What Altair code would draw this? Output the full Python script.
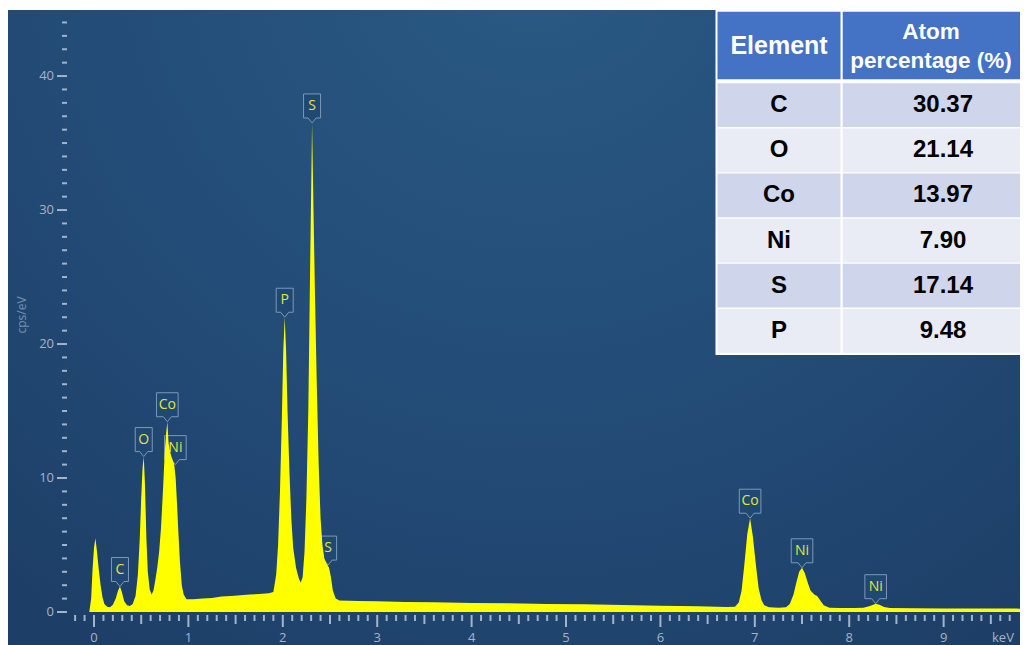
import altair as alt
import pandas as pd

# ---------------- data ----------------
energy = [-0.05, -0.03, -0.015, 0.0, 0.015, 0.03, 0.05, 0.07, 0.09, 0.11, 0.14, 0.17,
          0.20, 0.23, 0.255, 0.275, 0.295, 0.32, 0.35, 0.38, 0.41, 0.44, 0.465, 0.485,
          0.50, 0.515, 0.527, 0.54, 0.555, 0.57, 0.59, 0.61, 0.63, 0.65, 0.67, 0.69,
          0.71, 0.73, 0.75, 0.765, 0.777, 0.79, 0.805, 0.82, 0.835, 0.85, 0.865, 0.88,
          0.895, 0.91, 0.93, 0.95, 0.98, 1.05, 1.15, 1.25, 1.35, 1.45, 1.55, 1.65,
          1.75, 1.85, 1.90, 1.93, 1.95, 1.97, 1.99, 2.005, 2.02, 2.035, 2.05, 2.07,
          2.09, 2.11, 2.14, 2.17, 2.19, 2.21, 2.23, 2.25, 2.27, 2.29, 2.31, 2.325,
          2.34, 2.36, 2.38, 2.40, 2.42, 2.44, 2.465, 2.49, 2.51, 2.53, 2.56, 2.60,
          2.8, 3.0, 3.3, 3.6, 4.0, 4.4, 4.8, 5.2, 5.6, 6.0, 6.4, 6.7, 6.79, 6.83,
          6.86, 6.89, 6.92, 6.95, 6.98, 7.01, 7.04, 7.07, 7.10, 7.15, 7.25, 7.33,
          7.37, 7.41, 7.44, 7.47, 7.50, 7.53, 7.56, 7.59, 7.63, 7.66, 7.69, 7.73,
          7.79, 7.9, 8.05, 8.15, 8.22, 8.28, 8.32, 8.37, 8.43, 8.7, 9.0, 9.4, 9.9]
cps = [0.0, 1.0, 3.2, 4.8, 5.5, 4.6, 3.2, 2.0, 1.1, 0.6, 0.4, 0.35,
       0.55, 1.0, 1.6, 1.9, 1.5, 0.8, 0.5, 0.45, 0.6, 1.2, 2.8, 5.5,
       8.5, 10.8, 11.6, 9.5, 5.5, 3.0, 1.7, 1.3, 1.6, 2.4, 3.3, 4.5,
       6.3, 9.0, 12.0, 13.4, 14.2, 12.6, 12.0, 11.6, 11.3, 11.0, 10.0, 8.0,
       5.8, 3.8, 2.0, 1.3, 0.95, 0.95, 1.0, 1.05, 1.15, 1.2, 1.25, 1.3,
       1.35, 1.4, 1.5, 2.8, 5.0, 9.0, 14.5, 19.5, 22.0, 19.5, 15.0, 10.5,
       7.0, 4.8, 3.3, 2.5, 2.2, 2.6, 4.5, 8.5, 15.0, 26.0, 36.5, 30.0,
       24.0, 17.0, 11.0, 7.0, 5.0, 4.0, 3.6, 3.3, 2.6, 1.6, 1.0, 0.85,
       0.82, 0.8, 0.75, 0.72, 0.68, 0.65, 0.6, 0.57, 0.52, 0.47, 0.42, 0.38, 0.4, 0.7,
       1.6, 3.6, 5.8, 7.0, 5.6, 3.6, 1.8, 0.9, 0.5, 0.35, 0.32, 0.35,
       0.6, 1.3, 2.2, 3.0, 3.3, 2.9, 2.2, 1.6, 1.3, 1.2, 0.9, 0.5,
       0.32, 0.3, 0.3, 0.32, 0.45, 0.62, 0.55, 0.38, 0.3, 0.28, 0.27, 0.26, 0.25]

peak_names = ["C", "O", "Co", "Ni", "P", "S", "S", "Co", "Ni", "Ni"]
peak_energy = [0.275, 0.527, 0.777, 0.862, 2.02, 2.31, 2.48, 6.95, 7.50, 8.28]
peak_cps = [1.9, 11.6, 14.2, 11.0, 22.0, 36.5, 3.5, 7.0, 3.3, 0.62]

elements = ["C", "O", "Co", "Ni", "S", "P"]
atom_pct = ["30.37", "21.14", "13.97", "7.90", "17.14", "9.48"]
table_headers = ["Element", "Atom\npercentage (%)"]

y_major = [0, 10, 20, 30, 40]
y_minor = [v for v in range(0, 45) if v % 10 != 0]
x_major = list(range(0, 10))
x_half = [i + 0.5 for i in range(0, 10)]
x_minor = [round(i * 0.1, 1) for i in range(-2, 98) if i % 5 != 0]
x_title = "keV"
y_title = "cps/eV"

# ---------------- frames ----------------
spec_df = pd.DataFrame({"keV": energy, "cps": cps})
peak_df = pd.DataFrame({"keV": peak_energy, "cps": peak_cps, "name": peak_names})
tab_df = pd.DataFrame({"row": list(range(len(elements))), "element": elements, "pct": atom_pct})
one = pd.DataFrame({"a": [0]})

W, H = 953, 602
xs = alt.Scale(domain=[-0.286, 9.809], nice=False, zero=False)
ys = alt.Scale(domain=[0, 44.93], nice=False, zero=False)
AXC = "#a3b4c9"

bg = alt.Chart(one).mark_rect(
    fill={"gradient": "radial",
          "stops": [{"offset": 0, "color": "#295a85"},
                    {"offset": 0.55, "color": "#224a75"},
                    {"offset": 1, "color": "#1b3a61"}],
          "x1": 0.52, "y1": 0.12, "x2": 0.52, "y2": 0.12, "r1": 0, "r2": 0.95}
).encode(x=alt.value(-59), x2=alt.value(W), y=alt.value(0), y2=alt.value(H + 33))

# ---- axis ticks and labels, drawn through the scales from the tick lists ----
def yticks(vals, length):
    return alt.Chart(pd.DataFrame({"cps": vals})).mark_rule(color=AXC, strokeWidth=2).encode(
        y=alt.Y("cps:Q", scale=ys, axis=None), x=alt.value(-length), x2=alt.value(0))

def xticks(vals, length):
    return alt.Chart(pd.DataFrame({"keV": vals})).mark_rule(color=AXC, strokeWidth=2).encode(
        x=alt.X("keV:Q", scale=xs, axis=None), y=alt.value(H + 3), y2=alt.value(H + 3 + length))

ytick_minor = yticks(y_minor, 5)
ytick_major = yticks(y_major, 10)
xtick_minor = xticks(x_minor, 6)
xtick_half = xticks(x_half, 9)
xtick_major = xticks(x_major, 12)

ylab = alt.Chart(pd.DataFrame({"cps": y_major})).mark_text(
    align="right", baseline="middle", font="Open Sans", fontSize=13, color=AXC
).encode(y=alt.Y("cps:Q", scale=ys, axis=None), x=alt.value(-13), text=alt.Text("cps:Q", format="d"))

xlab = alt.Chart(pd.DataFrame({"keV": x_major})).mark_text(
    align="center", baseline="middle", font="Open Sans", fontSize=13, color=AXC
).encode(x=alt.X("keV:Q", scale=xs, axis=None), y=alt.value(H + 26), text=alt.Text("keV:Q", format="d"))

xtitle = alt.Chart(pd.DataFrame({"t": [x_title]})).mark_text(
    align="left", baseline="middle", font="Open Sans", fontSize=13, color=AXC
).encode(x=alt.value(925), y=alt.value(H + 26), text="t:N")

ytitle = alt.Chart(pd.DataFrame({"t": [y_title]})).mark_text(
    align="center", baseline="middle", font="Open Sans", fontSize=12, color="#7590b3", angle=270
).encode(x=alt.value(-45), y=alt.value(H / 2 + 4), text="t:N")

single_path = "M -0.567 -1 L 0.567 -1 L 0.567 0.6 L 0.267 0.6 L 0 0.933 L -0.267 0.6 L -0.567 0.6 Z"
double_path = "M -0.72 -1 L 0.72 -1 L 0.72 0.6 L 0.267 0.6 L 0 0.933 L -0.267 0.6 L -0.72 0.6 Z"

def boxes(path, test):
    return alt.Chart(peak_df).transform_filter(test).mark_point(
        shape=path, size=900, filled=True, fill="#1f4873", stroke="#7f98b5",
        strokeWidth=1, opacity=1, yOffset=-14
    ).encode(x=alt.X("keV:Q", scale=xs, axis=None), y=alt.Y("cps:Q", scale=ys, axis=None))

box1 = boxes(single_path, "length(datum.name) == 1")
box2 = boxes(double_path, "length(datum.name) == 2")

area = alt.Chart(spec_df).mark_area(color="#ffff00", interpolate="linear", opacity=1).encode(
    x=alt.X("keV:Q", scale=xs, axis=None),
    y=alt.Y("cps:Q", scale=ys, axis=None),
)

ptext = alt.Chart(peak_df).mark_text(
    font="Open Sans", fontSize=14, color="#e4e43e", baseline="middle", yOffset=-17
).encode(x=alt.X("keV:Q", scale=xs, axis=None), y=alt.Y("cps:Q", scale=ys, axis=None),
         text="name:N")

main = alt.layer(bg, ytick_minor, ytick_major, xtick_minor, xtick_half, xtick_major,
                 ylab, xlab, xtitle, ytitle, box1, box2, area, ptext)

# ---------------- table ----------------
C1 = (650.5, 773.5)
C2 = (775.7, 980)
row_scale = alt.Scale(range=[73.3, 342.7], paddingInner=0.03, paddingOuter=0)

tab_bg = alt.Chart(one).mark_rect(fill="white").encode(
    x=alt.value(648.5), x2=alt.value(985), y=alt.value(0), y2=alt.value(345))

head1 = alt.Chart(one).mark_rect(fill="#4472c4").encode(
    x=alt.value(C1[0]), x2=alt.value(C1[1]), y=alt.value(1.7), y2=alt.value(69.3))
head2 = alt.Chart(one).mark_rect(fill="#4472c4").encode(
    x=alt.value(C2[0]), x2=alt.value(C2[1]), y=alt.value(1.7), y2=alt.value(69.3))

hdr_df = pd.DataFrame({"h": table_headers})
htext1 = alt.Chart(hdr_df.iloc[[0]]).mark_text(
    font="Liberation Sans", fontWeight="bold", fontSize=25, color="white", baseline="middle"
).encode(x=alt.value((C1[0] + C1[1]) / 2), y=alt.value(36), text="h:N")
htext2 = alt.Chart(hdr_df.iloc[[1]]).mark_text(
    font="Liberation Sans", fontWeight="bold", fontSize=22.5, color="white", baseline="middle",
    lineBreak="\n", lineHeight=29
).encode(x=alt.value(864), y=alt.value(22), text="h:N")

row_color = alt.Color("par:N", scale=alt.Scale(domain=["0", "1"], range=["#cfd5ea", "#e9ebf5"]), legend=None)
body1 = alt.Chart(tab_df).transform_calculate(par="'' + (datum.row % 2)").mark_rect().encode(
    x=alt.value(C1[0]), x2=alt.value(C1[1]), y=alt.Y("row:O", scale=row_scale, axis=None), color=row_color)
body2 = alt.Chart(tab_df).transform_calculate(par="'' + (datum.row % 2)").mark_rect().encode(
    x=alt.value(C2[0]), x2=alt.value(C2[1]), y=alt.Y("row:O", scale=row_scale, axis=None), color=row_color)

btext1 = alt.Chart(tab_df).mark_text(
    font="Liberation Sans", fontWeight="bold", fontSize=24, color="black", baseline="middle"
).encode(x=alt.value((C1[0] + C1[1]) / 2),
         y=alt.Y("row:O", scale=row_scale, axis=None, bandPosition=0.5), text="element:N")
btext2 = alt.Chart(tab_df).mark_text(
    font="Liberation Sans", fontWeight="bold", fontSize=24, color="black", baseline="middle"
).encode(x=alt.value(876),
         y=alt.Y("row:O", scale=row_scale, axis=None, bandPosition=0.5), text="pct:N")

table = alt.layer(tab_bg, head1, head2, htext1, htext2, body1, body2, btext1, btext2)

chart = alt.layer(main, table).resolve_scale(x="independent", y="independent", color="independent").properties(
    width=W, height=H,
    padding={"left": 59, "top": 2, "right": 0, "bottom": 33},
    autosize=alt.AutoSizeParams(type="none"),
).configure_view(stroke=None)

chart.save("out.html", embed_options={"renderer": "svg", "actions": False})
